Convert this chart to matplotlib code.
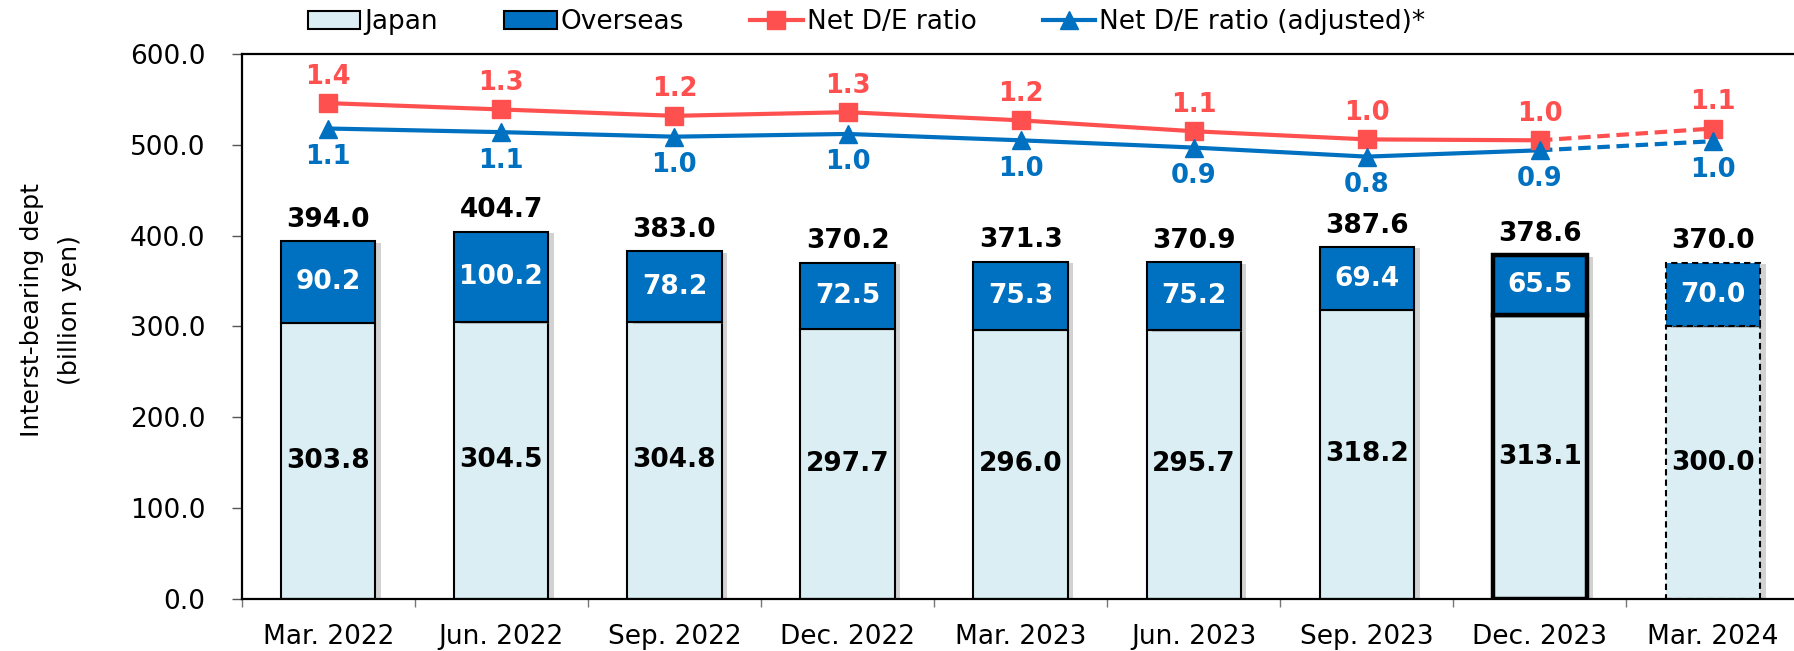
import numpy as np
import matplotlib
matplotlib.use("Agg")
import matplotlib.pyplot as plt
import matplotlib.patheffects as pe
from matplotlib.lines import Line2D
from matplotlib.patches import Patch

# -----------------------------------------------------------------------------
# Data (billion yen / ratio)
# -----------------------------------------------------------------------------
periods = ["Mar. 2022", "Jun. 2022", "Sep. 2022", "Dec. 2022", "Mar. 2023",
           "Jun. 2023", "Sep. 2023", "Dec. 2023", "Mar. 2024"]
japan = [303.8, 304.5, 304.8, 297.7, 296.0, 295.7, 318.2, 313.1, 300.0]
overseas = [90.2, 100.2, 78.2, 72.5, 75.3, 75.2, 69.4, 65.5, 70.0]
de_ratio = [1.38, 1.31, 1.24, 1.28, 1.19, 1.07, 0.98, 0.97, 1.10]
de_ratio_adj = [1.10, 1.06, 1.01, 1.04, 0.97, 0.89, 0.79, 0.86, 0.96]

JAPAN_C = "#DAEEF3"
OVERSEAS_C = "#0070C0"
RED_C = "#FF5050"
BLUE_C = "#0070C0"

plt.rcParams["font.family"] = ["DejaVu Sans"]

x = np.arange(len(periods))
totals = [j + o for j, o in zip(japan, overseas)]

fig = plt.figure(figsize=(17.94, 6.51), dpi=100)
ax = fig.add_axes([0.1347, 0.0806, 0.8684, 0.8358])

# -----------------------------------------------------------------------------
# Stacked bars
# -----------------------------------------------------------------------------
n = len(periods)
edge_lw = [1.5] * n
edge_ls = ["-"] * n
edge_lw[n - 2] = 3.2          # latest actual
edge_ls[n - 1] = (0, (3, 2))  # forecast
shadow = [pe.SimplePatchShadow(offset=(4, -1), shadow_rgbFace="gray", alpha=0.35), pe.Normal()]

width = 0.545
for i in range(n):
    ax.bar(x[i], japan[i], width, color=JAPAN_C, edgecolor="black",
           linewidth=edge_lw[i], linestyle=edge_ls[i], path_effects=shadow, zorder=2)
    ax.bar(x[i], overseas[i], width, bottom=japan[i], color=OVERSEAS_C, edgecolor="black",
           linewidth=edge_lw[i], linestyle=edge_ls[i], path_effects=shadow, zorder=2)

for i in range(n):
    ax.text(x[i], japan[i] / 2, f"{japan[i]:.1f}", ha="center", va="center",
            fontsize=19, fontweight="bold", color="black", zorder=5)
    ax.text(x[i], japan[i] + overseas[i] / 2, f"{overseas[i]:.1f}", ha="center", va="center",
            fontsize=19, fontweight="bold", color="white", zorder=5)
    ax.annotate(f"{totals[i]:.1f}", (x[i], totals[i]), xytext=(0, 15.5), textcoords="offset points",
                ha="center", va="center", fontsize=19, fontweight="bold", color="black", zorder=5)

ax.set_xlim(-0.5, n - 0.5)
ax.set_ylim(0, 600)
ax.set_yticks(np.arange(0, 601, 100))
ax.set_yticklabels([f"{v:.1f}" for v in np.arange(0, 601, 100)])
ax.tick_params(axis="y", labelsize=19, length=7, width=1.0, pad=19, color="#555555")

ax.set_xticks(np.arange(-0.5, n, 1.0))
ax.set_xticklabels([])
ax.tick_params(axis="x", which="major", length=6, width=1.0, color="#777777")
ax.set_xticks(x, minor=True)
ax.set_xticklabels(periods, minor=True)
ax.tick_params(axis="x", which="minor", length=0, labelsize=19, pad=18)

for side in ["left", "bottom", "top"]:
    ax.spines[side].set_linewidth(1.6)
    ax.spines[side].set_color("black")
ax.spines["right"].set_visible(False)

# -----------------------------------------------------------------------------
# D/E ratio lines (secondary scale, hidden)
# -----------------------------------------------------------------------------
ax2 = ax.twinx()
ax2.set_ylim(-4.083, 1.917)
ax2.set_axis_off()

for vals, col, mk, ms in [(de_ratio, RED_C, "s", 13.5), (de_ratio_adj, BLUE_C, "^", 13.5)]:
    ax2.plot(x[:-1], vals[:-1], color=col, lw=3.0, solid_capstyle="round", zorder=3)
    ax2.plot(x[-2:], vals[-2:], color=col, lw=3.0, linestyle=(0, (3, 1.6)), zorder=3)
    ax2.plot(x, vals, linestyle="none", marker=mk, markersize=ms, color=col, zorder=4)

for i in range(n):
    ax2.annotate(f"{de_ratio[i]:.1f}", (x[i], de_ratio[i]), xytext=(0, 19),
                 textcoords="offset points", ha="center", va="center",
                 fontsize=18.5, fontweight="bold", color=RED_C)
    ax2.annotate(f"{de_ratio_adj[i]:.1f}", (x[i], de_ratio_adj[i]), xytext=(0, -20.5),
                 textcoords="offset points", ha="center", va="center",
                 fontsize=18.5, fontweight="bold", color=BLUE_C)

# -----------------------------------------------------------------------------
# Axis title + legend
# -----------------------------------------------------------------------------
fig.text(0.0284, 0.524, "Interst-bearing dept\n(billion yen)", rotation=90,
         ha="center", va="center", multialignment="center", fontsize=18.3, linespacing=1.75)

handles = [
    Patch(facecolor=JAPAN_C, edgecolor="black", linewidth=1.5, label="Japan"),
    Patch(facecolor=OVERSEAS_C, edgecolor="black", linewidth=1.5, label="Overseas"),
    Line2D([], [], color=RED_C, lw=3.0, marker="s", markersize=13, label="Net D/E ratio"),
    Line2D([], [], color=BLUE_C, lw=3.0, marker="^", markersize=13, label="Net D/E ratio (adjusted)*"),
]
fig.legend(handles=handles, loc="center", bbox_to_anchor=(0.483, 1 - 22 / 651), ncol=4,
           frameon=False, fontsize=19, handlelength=2.0, handletextpad=0.15,
           columnspacing=2.5, borderaxespad=0)

fig.savefig("out.png", dpi=100)
plt.close(fig)
